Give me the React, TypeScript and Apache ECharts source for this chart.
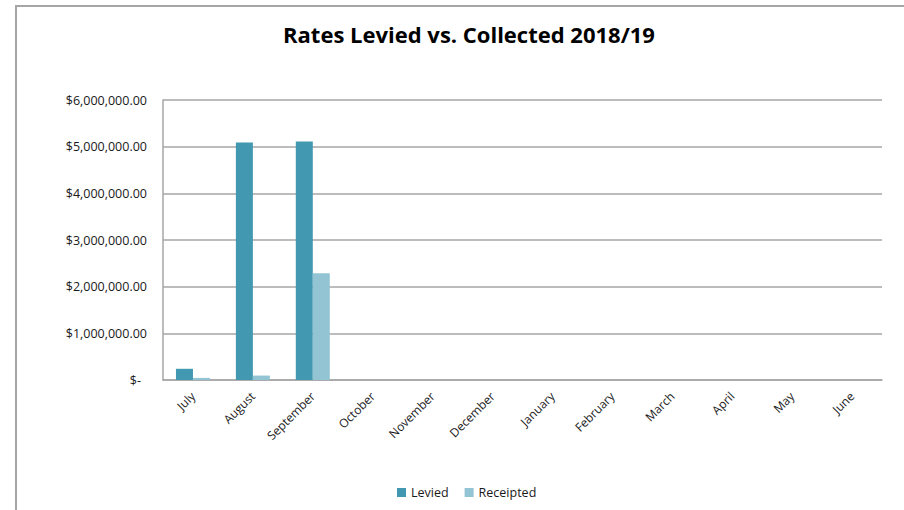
import React, { useEffect, useRef } from "react";
import * as echarts from "echarts";

const months = ["July", "August", "September", "October", "November", "December", "January", "February", "March", "April", "May", "June"];
const levied = [240000, 5090000, 5110000, null, null, null, null, null, null, null, null, null];
const receipted = [45000, 95000, 2290000, null, null, null, null, null, null, null, null, null];
const yTicks = [0, 1000000, 2000000, 3000000, 4000000, 5000000, 6000000];

const FONT = "Open Sans";

export default function App() {
  const ref = useRef<HTMLDivElement>(null);
  useEffect(() => {
    if (!ref.current) return;
    const chart = echarts.init(ref.current, undefined, { renderer: "svg" });
    chart.setOption({
      animation: false,
      backgroundColor: "#ffffff",
      title: {
        text: "Rates Levied vs. Collected 2018/19",
        left: 464,
        top: 18,
        textAlign: "center",
        textStyle: { fontFamily: FONT, fontSize: 22, fontWeight: "bold", color: "#000000" },
      },
      graphic: [
        {
          type: "rect",
          shape: { x: 16, y: 6, width: 900, height: 520 },
          style: { fill: "none", stroke: "#A6A6A6", lineWidth: 2 },
          silent: true,
        },
      ],
      legend: {
        bottom: 6,
        left: 392,
        itemWidth: 9,
        itemHeight: 9,
        itemGap: 16,
        icon: "rect",
        textStyle: { fontFamily: FONT, fontSize: 12.5, color: "#1a1a1a" },
        data: ["Levied", "Receipted"],
      },
      grid: { left: 163, right: 22, top: 100, bottom: 130, containLabel: false },
      xAxis: {
        type: "category",
        data: months,
        axisLine: { show: true, lineStyle: { color: "#A6A6A6", width: 1.5 } },
        axisTick: { show: false },
        axisLabel: {
          rotate: 45,
          interval: 0,
          margin: 14,
          fontFamily: FONT,
          fontSize: 12,
          color: "#1a1a1a",
        },
      },
      yAxis: {
        type: "value",
        min: 0,
        max: yTicks[yTicks.length - 1],
        interval: 1000000,
        axisLine: { show: true, lineStyle: { color: "#A6A6A6", width: 1.5 } },
        axisTick: { show: false },
        splitLine: { show: true, lineStyle: { color: "#A6A6A6", width: 1.5 } },
        axisLabel: {
          margin: 16,
          fontFamily: FONT,
          fontSize: 12.5,
          color: "#1a1a1a",
          formatter: (v: number) =>
            v === 0
              ? "{z|$-}"
              : "$" + v.toLocaleString("en-US", { minimumFractionDigits: 2, maximumFractionDigits: 2 }),
          rich: { z: { fontFamily: FONT, fontSize: 12.5, color: "#1a1a1a", padding: [0, 6, 0, 0] } },
        },
      },
      series: [
        {
          name: "Levied",
          type: "bar",
          data: levied,
          barWidth: 17,
          barGap: "0%",
          itemStyle: { color: "#4198B0" },
        },
        {
          name: "Receipted",
          type: "bar",
          data: receipted,
          barWidth: 17,
          barGap: "0%",
          itemStyle: { color: "#93C4D4" },
        },
      ],
    });
    return () => chart.dispose();
  }, []);
  return (
    <div
      ref={ref}
      style={{ position: "fixed", left: 0, top: 0, width: 904, height: 510 }}
    />
  );
}
